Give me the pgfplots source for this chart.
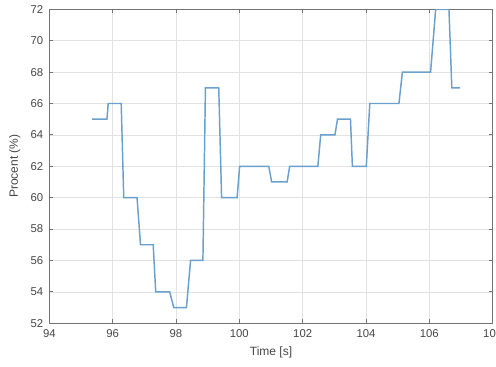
\documentclass[border=0pt]{standalone}
\usepackage{pgfplots}
\pgfplotsset{compat=1.18}
\usepackage{fontspec}
\setmainfont{Liberation Sans}

\definecolor{lineblue}{RGB}{105,160,205}
\definecolor{axgray}{RGB}{115,115,115}
\definecolor{gridgray}{RGB}{226,226,226}
\definecolor{txtgray}{RGB}{70,70,70}

\begin{document}
\begin{tikzpicture}
\begin{axis}[
  width=332.6pt, height=235.5pt,
  scale only axis,
  xmin=94, xmax=108, ymin=52, ymax=72,
  xtick={94,96,...,108},
  ytick={52,54,...,72},
  grid=major,
  major grid style={gridgray, line width=0.5pt},
  axis line style={axgray, line width=0.9pt},
  tick style={axgray, line width=0.6pt},
  tick align=inside,
  major tick length=3pt,
  xtick pos=both, ytick pos=both,
  xticklabel pos=lower, yticklabel pos=left,
  /pgf/number format/assume math mode=true,
  /pgf/number format/1000 sep={},
  ticklabel style={font=\fontsize{8.5}{10}\selectfont, text=txtgray},
  xticklabel style={yshift=-1.5pt},
  yticklabel style={xshift=-1pt},
  xlabel={Time [s]},
  ylabel={Procent (\%)},
  label style={font=\fontsize{9}{11}\selectfont, text=txtgray},
  xlabel style={at={(axis description cs:0.5,0)}, anchor=center, yshift=-21.6pt},
  ylabel style={at={(axis description cs:0,0.5)}, anchor=center, yshift=26pt},
]
\addplot[lineblue, line width=1.1pt] coordinates {
  (95.34,65) (95.82,65) (95.86,66) (96.27,66) (96.35,60) (96.77,60)
  (96.88,57) (97.28,57) (97.36,54) (97.80,54) (97.93,53) (98.33,53)
  (98.46,56) (98.85,56) (98.93,67) (99.35,67) (99.44,60) (99.93,60)
  (100.01,62) (100.93,62) (101.02,61) (101.51,61) (101.59,62) (102.48,62)
  (102.57,64) (103.02,64) (103.10,65) (103.51,65) (103.57,62) (104.01,62)
  (104.12,66) (105.04,66) (105.15,68) (106.04,68) (106.20,72) (106.62,72)
  (106.71,67) (106.97,67)
};
\end{axis}
\pgfresetboundingbox
\path[use as bounding box]
  ([shift={(-37pt,-32.8pt)}]current axis.south west)
  rectangle
  ([shift={(2.5pt,7pt)}]current axis.north east);
\end{tikzpicture}
\end{document}
